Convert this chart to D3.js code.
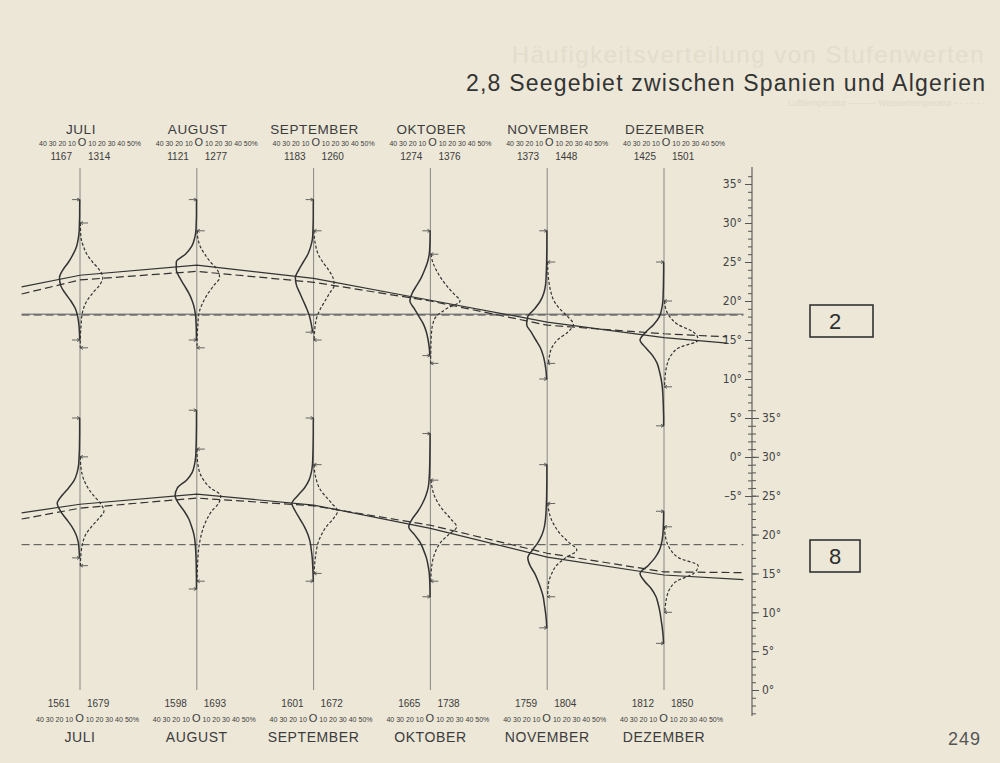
<!DOCTYPE html>
<html><head><meta charset="utf-8">
<script src="https://cdn.jsdelivr.net/npm/d3@7"></script>
<style>
html,body{margin:0;padding:0;background:#ece7d7;}
svg{display:block;}
text{font-family:"Liberation Sans","DejaVu Sans",sans-serif;fill:#3c3c3c;}
</style></head><body>
<svg id="c" width="1000" height="763"></svg>
<script>
// ---------------- DATA ----------------
const months = ["JULI","AUGUST","SEPTEMBER","OKTOBER","NOVEMBER","DEZEMBER"];
const countsTop = [[1167,1314],[1121,1277],[1183,1260],[1274,1376],[1373,1448],[1425,1501]];
const countsBottom = [[1561,1679],[1598,1693],[1601,1672],[1665,1738],[1759,1804],[1812,1850]];
const pctLeftLabels = "40 30 20 10 ";
const pctZero = "O";
const pctRightLabels = " 10 20 30 40 50%";
const axisLabelsTop = [35,30,25,20,15,10,5,0,-5];
const axisLabelsBottom = [35,30,25,20,15,10,5,0];
const panelNames = ["2","8"];

// mean curves (°C) at month index (-0.5 = mid June, 5.x = end of December)
const meanTime2 = [-0.5,0,1,2,3,4,5,5.54];
const meanSolid2 = [21.8,23.3,24.6,22.9,20.1,17.3,15.3,14.6];
const meanDashed2 = [20.9,22.7,23.8,22.4,20.0,16.9,15.8,15.4];
const meanTime8 = [-0.5,0,1,2,3,4,5,5.68];
const meanSolid8 = [22.8,23.9,25.2,23.8,20.8,17.1,14.8,14.2];
const meanDashed8 = [22.0,23.4,24.7,23.7,21.2,17.6,15.2,15.1];
const refLevel2 = 18.3;
const refLevel8 = 18.7;

// frequency distributions (% per 1°), listed from the lowest degree upward
const lowSolid2 = [15,15,16,13,10,4];
const distSolid2 = [
  [0.3,0.5,1,2,4,8,13,17,18,15,10,6,3,1.5,0.7,0.5,0.3,0.3,0.2],
  [0.3,0.4,0.6,1,2,4,7,11,15,18,18,10,4.5,2,0.8,0.5,0.3,0.3,0.2],
  [0.8,2,3.5,6,9,12,15,16,13,9,5,2.5,1,0.6,0.4,0.3,0.3,0.2],
  [0.5,1,2,3.5,6,10,14,18,16,12,8,5,2.5,1,0.5,0.3,0.2],
  [0.5,1,2,3.5,6,10,14,18,17,11,6,3,1.5,1,0.7,0.5,0.4,0.3,0.3,0.3],
  [0.3,0.3,0.5,0.7,1,1.5,2.5,4,6,10,16,21,16,9,4,2,1,0.7,0.5,0.4,0.3,0.3]
];
const lowDashed2 = [14,14,15,12,12,9];
const distDashed2 = [
  [0.2,0.3,0.5,1,1.5,3,6,11,17,20,17,11,6,3,1,0.5,0.3],
  [0.2,0.3,0.5,1,1.5,3,6,10,15,20,18,12,7,3,1,0.3],
  [0.4,0.8,1.5,3,6,10,14,18,17,13,8,4,2,0.8,0.3],
  [0.2,0.3,0.4,0.6,1,2,5,14,26,20,14,9,5,2,0.5],
  [1,2,4,9,18,23,18,11,6,3.5,2,1,0.5,0.3],
  [0.4,0.8,1.5,3,6,13,30,26,12,5,1.5,0.5]
];
const lowSolid8 = [17,13,14,12,8,6];
const distSolid8 = [
  [0.4,0.8,1.5,3.5,7,12,17,20,16,10,5,2.5,1.2,0.8,0.5,0.4,0.3,0.3,0.3],
  [0.3,0.3,0.4,0.5,0.7,1,1.5,2.5,4.5,7,11,16,19,17,9,4,2,1,0.7,0.5,0.4,0.3,0.3,0.2],
  [0.3,0.5,0.8,1.2,2,3,5,8,12,16,19,14,8,4,2,1,0.7,0.5,0.4,0.3,0.3,0.2],
  [0.3,0.4,0.6,1,2,3.5,6,9,14,19,16,11,7,4,2,1.2,0.8,0.6,0.5,0.4,0.3,0.3],
  [0.4,0.8,1.5,2.5,3.5,5.5,8,11,15,17,13,8,4.5,2.5,1.5,1,0.7,0.5,0.4,0.3,0.3,0.3],
  [0.4,0.8,1.5,2.5,3.5,5,7,11,17,21,14,8,4,2,1,0.6,0.4,0.3]
];
const lowDashed8 = [16,14,15,14,12,10];
const distDashed8 = [
  [0.3,0.6,1.2,2.5,5,10,16,21,18,12,7,3.5,1.5,0.6,0.3],
  [0.3,0.4,0.6,1,1.5,2.5,4,6,9,13,19,21,12,6,2.5,1,0.3,0.2],
  [0.4,0.8,1.5,2.5,4,7,11,17,21,16,10,5,2.5,1,0.5],
  [0.3,0.6,1.2,2.5,5,9,16,23,18,12,7,3.5,1.5,0.5],
  [0.3,0.7,1.5,4,8,16,26,19,12,7,3.5,1.5,0.5],
  [0.6,1.3,2.5,5,11,26,30,13,6,2.5,1,0.4]
];

// ---------------- LAYOUT ----------------
const svg = d3.select("#c");
const W = 1000, H = 763;
svg.append("rect").attr("width", W).attr("height", H).attr("fill", "#ece7d7");

const xMonth = d3.scaleLinear().domain([0,5]).range([80,664]);
const yTop = d3.scaleLinear().domain([0,35]).range([457,184]);
const yBot = d3.scaleLinear().domain([0,35]).range([690,418]);
const pctPx = d3.scaleLinear().domain([0,10]).range([0,11.4]);
const axisX = 752;

// ghost text from reverse page
svg.append("text").attr("x", 985).attr("y", 63).attr("text-anchor", "end")
  .attr("font-size", 24).style("fill", "#e3ddcc").attr("letter-spacing", 1.5)
  .text("Häufigkeitsverteilung von Stufenwerten");
svg.append("text").attr("x", 985).attr("y", 106).attr("text-anchor", "end")
  .attr("font-size", 9).style("fill", "#e0dac9")
  .text("Lufttemperatur  ———   Wassertemperatur  - - - - - -");

// title
svg.append("text").attr("x", 985).attr("y", 91).attr("text-anchor", "end")
  .attr("font-size", 23).attr("textLength", 519).attr("lengthAdjust", "spacing")
  .style("fill", "#333").text("2,8 Seegebiet zwischen Spanien und Algerien");

// month baselines
svg.append("g").selectAll("line").data(months).join("line")
  .attr("x1", (d,i) => xMonth(i)).attr("x2", (d,i) => xMonth(i))
  .attr("y1", 168).attr("y2", 690)
  .attr("stroke", "#6e6e6e").attr("stroke-width", 0.8);

function pctScaleText(g, x, y, width) {
  const t = g.append("text").attr("x", x).attr("y", y).attr("font-size", 7)
    .attr("textLength", width).attr("lengthAdjust", "spacingAndGlyphs");
  t.append("tspan").text(pctLeftLabels);
  t.append("tspan").attr("font-size", 11).text(pctZero);
  t.append("tspan").text(pctRightLabels);
}

// header / footer texts
const hdr = svg.append("g");
months.forEach((m,i) => {
  const bx = xMonth(i);
  hdr.append("text").attr("x", bx + 1).attr("y", 134).attr("text-anchor", "middle")
    .attr("font-size", 13.5).attr("letter-spacing", 0.6).text(m);
  pctScaleText(hdr, bx - 41, 146, 102);
  hdr.append("text").attr("x", bx - 8).attr("y", 160).attr("text-anchor", "end")
    .attr("font-size", 10).text(countsTop[i][0]);
  hdr.append("text").attr("x", bx + 8).attr("y", 160).attr("text-anchor", "start")
    .attr("font-size", 10).text(countsTop[i][1]);
  hdr.append("text").attr("x", bx - 10).attr("y", 707).attr("text-anchor", "end")
    .attr("font-size", 10).text(countsBottom[i][0]);
  hdr.append("text").attr("x", bx + 7).attr("y", 707).attr("text-anchor", "start")
    .attr("font-size", 10).text(countsBottom[i][1]);
  pctScaleText(hdr, bx - 44, 722, 103);
  hdr.append("text").attr("x", bx).attr("y", 742).attr("text-anchor", "middle")
    .attr("font-size", 14).attr("letter-spacing", 0.6).text(m);
});

// right axes
const axG = svg.append("g").attr("transform", `translate(${axisX},0)`);
axG.append("line").attr("x1", 0).attr("x2", 0).attr("y1", 167).attr("y2", 716)
  .attr("stroke", "#555").attr("stroke-width", 1.1);
const fmtDeg = d => (d < 0 ? "–" + (-d) : d) + "°";
function styleAxis(g) {
  g.select(".domain").remove();
  g.selectAll("line").attr("stroke", "#555");
  g.selectAll("text").attr("font-size", 12).style("fill", "#444")
    .style("font-family", "'Liberation Sans Narrow','DejaVu Sans Condensed','Liberation Sans',sans-serif");
}
axG.append("g").call(d3.axisLeft(yTop).tickValues(d3.range(-6,37)).tickSize(4).tickFormat("")).call(styleAxis);
axG.append("g").call(d3.axisLeft(yTop).tickValues(axisLabelsTop).tickSize(7).tickPadding(3).tickFormat(fmtDeg)).call(styleAxis);
axG.append("g").call(d3.axisRight(yBot).tickValues(d3.range(-3,37)).tickSize(4).tickFormat("")).call(styleAxis);
axG.append("g").call(d3.axisRight(yBot).tickValues(axisLabelsBottom).tickSize(7).tickPadding(3).tickFormat(fmtDeg)).call(styleAxis);

// panels
const panels = [
  {y: yTop, lowS: lowSolid2, S: distSolid2, lowD: lowDashed2, D: distDashed2,
   t: meanTime2, mS: meanSolid2, mD: meanDashed2, ref: refLevel2, doubleRef: true},
  {y: yBot, lowS: lowSolid8, S: distSolid8, lowD: lowDashed8, D: distDashed8,
   t: meanTime8, mS: meanSolid8, mD: meanDashed8, ref: refLevel8, doubleRef: false}
];

const distLine = d3.line().curve(d3.curveMonotoneY);
const meanLine = (y, t) => d3.line().x((d,j) => xMonth(t[j])).y(d => y(d));

panels.forEach(p => {
  const g = svg.append("g");
  const x0 = xMonth(-0.5), x1 = xMonth(5.68);
  if (p.doubleRef) {
    g.append("line").attr("x1", x0).attr("x2", x1).attr("y1", p.y(p.ref)).attr("y2", p.y(p.ref))
      .attr("stroke", "#8a8a8a").attr("stroke-width", 1.3);
  }
  g.append("line").attr("x1", x0).attr("x2", x1).attr("y1", p.y(p.ref) + (p.doubleRef ? 0.8 : 0))
    .attr("y2", p.y(p.ref) + (p.doubleRef ? 0.8 : 0))
    .attr("stroke", "#4a4a4a").attr("stroke-width", 1).attr("stroke-dasharray", "8,4");

  months.forEach((m,i) => {
    const bx = xMonth(i);
    const sPts = p.S[i].map((v,j) => [bx - pctPx(v), p.y(p.lowS[i] + j)]).reverse();
    const dPts = p.D[i].map((v,j) => [bx + pctPx(v), p.y(p.lowD[i] + j)]).reverse();
    g.append("path").attr("d", distLine(sPts)).attr("fill", "none")
      .attr("stroke", "#333").attr("stroke-width", 1.5);
    g.append("path").attr("d", distLine(dPts)).attr("fill", "none")
      .attr("stroke", "#333").attr("stroke-width", 1.2).attr("stroke-dasharray", "3,2");
    const sEnds = [p.lowS[i], p.lowS[i] + p.S[i].length - 1];
    const dEnds = [p.lowD[i], p.lowD[i] + p.D[i].length - 1];
    sEnds.forEach(t => {
      const yy = p.y(t);
      g.append("path").attr("d", `M${bx-8},${yy}L${bx},${yy}M${bx-3},${yy-1.5}L${bx},${yy}L${bx-3},${yy+1.5}`)
        .attr("fill", "none").attr("stroke", "#444").attr("stroke-width", 0.8);
    });
    dEnds.forEach(t => {
      const yy = p.y(t);
      g.append("path").attr("d", `M${bx+8},${yy}L${bx},${yy}M${bx+3},${yy-1.5}L${bx},${yy}L${bx+3},${yy+1.5}`)
        .attr("fill", "none").attr("stroke", "#444").attr("stroke-width", 0.8);
    });
  });

  g.append("path").attr("d", meanLine(p.y, p.t)(p.mS)).attr("fill", "none")
    .attr("stroke", "#333").attr("stroke-width", 1.2);
  g.append("path").attr("d", meanLine(p.y, p.t)(p.mD)).attr("fill", "none")
    .attr("stroke", "#333").attr("stroke-width", 1.2).attr("stroke-dasharray", "8,4");
});

// panel boxes
const boxes = [{y0: 305, y1: 337, x1: 873}, {y0: 540, y1: 572, x1: 860}];
panelNames.forEach((n,i) => {
  const b = boxes[i];
  svg.append("rect").attr("x", 810).attr("y", b.y0).attr("width", b.x1 - 810).attr("height", b.y1 - b.y0)
    .attr("fill", "none").attr("stroke", "#333").attr("stroke-width", 1.6);
  svg.append("text").attr("x", 835).attr("y", (b.y0 + b.y1) / 2 + 8).attr("text-anchor", "middle")
    .attr("font-size", 22).style("fill", "#2e2e2e").text(n);
});

// page number
svg.append("text").attr("x", 981).attr("y", 745).attr("text-anchor", "end")
  .attr("font-size", 18).style("fill", "#555").attr("letter-spacing", 1).text("249");
</script>
</body></html>
